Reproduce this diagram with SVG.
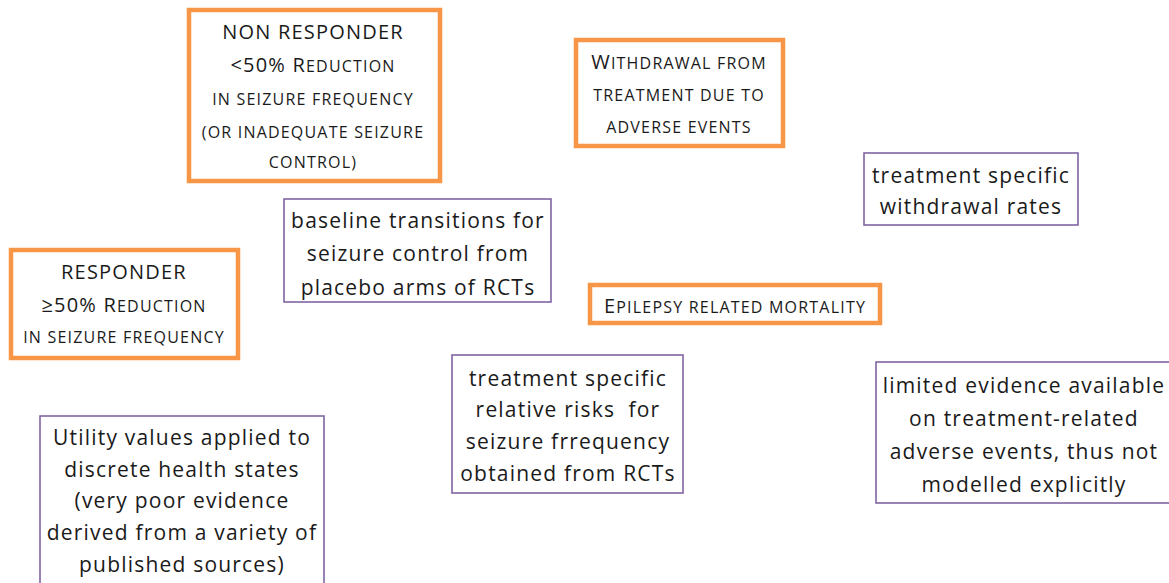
<svg xmlns="http://www.w3.org/2000/svg" width="1169" height="583" viewBox="0 0 1169 583">
<style>
.ob{fill:#fff;stroke:#F79646;stroke-width:4.5}
.pb{fill:#fff;stroke:#8064A2;stroke-width:1.6}
text{font-family:"Open Sans","Liberation Sans",sans-serif;fill:#1a1a1a;text-anchor:middle;letter-spacing:1.2px}
.p{font-size:21px}
.o{font-size:20px}
.s{font-size:16px}
</style>
<g id="non-responder">
<rect class="ob" x="189" y="10" width="251" height="171"/>
<text class="o" x="313" y="39">NON RESPONDER</text>
<text class="o" x="313" y="72">&lt;50% R<tspan class="s">EDUCTION</tspan></text>
<text class="s" x="313" y="105">IN SEIZURE FREQUENCY</text>
<text class="s" x="313" y="138">(OR INADEQUATE SEIZURE</text>
<text class="s" x="313" y="168">CONTROL)</text>
</g>
<g id="withdrawal">
<rect class="ob" x="576" y="40" width="207" height="106"/>
<text class="o" x="679" y="69">W<tspan class="s">ITHDRAWAL FROM</tspan></text>
<text class="s" x="679" y="101">TREATMENT DUE TO</text>
<text class="s" x="679" y="133">ADVERSE EVENTS</text>
</g>
<g id="responder">
<rect class="ob" x="11" y="250" width="227" height="108"/>
<text class="o" x="124" y="279">RESPONDER</text>
<text class="o" x="124" y="312">≥50% R<tspan class="s">EDUCTION</tspan></text>
<text class="s" x="124" y="343">IN SEIZURE FREQUENCY</text>
</g>
<g id="mortality">
<rect class="ob" x="590" y="285" width="290" height="38"/>
<text class="o" x="735" y="313">E<tspan class="s">PILEPSY RELATED MORTALITY</tspan></text>
</g>
<g id="baseline-transitions">
<rect class="pb" x="284" y="199" width="267" height="103"/>
<text class="p" x="418" y="228">baseline transitions for</text>
<text class="p" x="418" y="261">seizure control from</text>
<text class="p" x="418" y="295">placebo arms of RCTs</text>
</g>
<g id="withdrawal-rates">
<rect class="pb" x="864" y="153" width="214" height="72"/>
<text class="p" x="971" y="183">treatment specific</text>
<text class="p" x="971" y="214">withdrawal rates</text>
</g>
<g id="relative-risks">
<rect class="pb" x="452" y="355" width="231" height="138"/>
<text class="p" x="568" y="386">treatment specific</text>
<text class="p" x="568" y="417" xml:space="preserve">relative risks  for</text>
<text class="p" x="568" y="449">seizure frrequency</text>
<text class="p" x="568" y="481">obtained from RCTs</text>
</g>
<g id="limited-evidence">
<rect class="pb" x="876" y="362" width="310" height="141"/>
<text class="p" x="1024" y="393">limited evidence available</text>
<text class="p" x="1024" y="426">on treatment-related</text>
<text class="p" x="1024" y="459">adverse events, thus not</text>
<text class="p" x="1024" y="492">modelled explicitly</text>
</g>
<g id="utility-values">
<rect class="pb" x="40" y="416" width="284" height="190"/>
<text class="p" x="182" y="445">Utility values applied to</text>
<text class="p" x="182" y="477">discrete health states</text>
<text class="p" x="182" y="508">(very poor evidence</text>
<text class="p" x="182" y="540">derived from a variety of</text>
<text class="p" x="182" y="572">published sources)</text>
</g>
<g id="connectors"/>
</svg>
